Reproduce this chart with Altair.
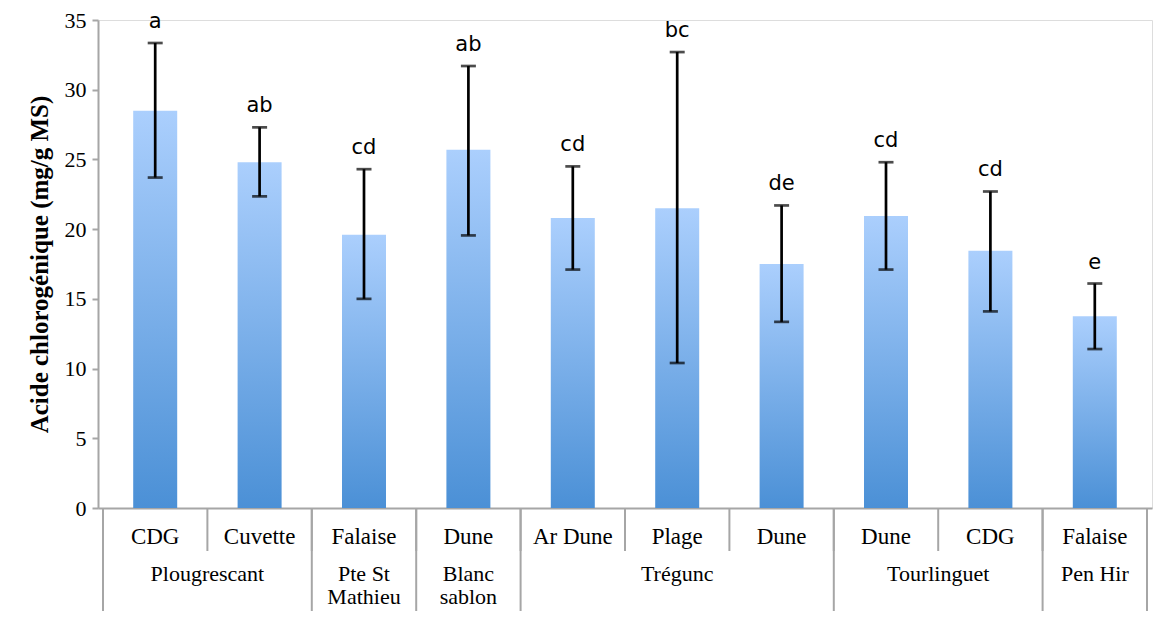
import altair as alt
import pandas as pd

# ---- data ----
sites = ["CDG", "Cuvette", "Falaise", "Dune", "Ar Dune", "Plage", "Dune", "Dune", "CDG", "Falaise"]
means = [28.5, 24.8, 19.6, 25.7, 20.8, 21.5, 17.5, 20.95, 18.45, 13.75]
err_high = [33.35, 27.3, 24.3, 31.7, 24.5, 32.7, 21.7, 24.8, 22.7, 16.1]
err_low = [23.7, 22.35, 15.0, 19.55, 17.1, 10.4, 13.35, 17.1, 14.1, 11.4]
letters = ["a", "ab", "cd", "ab", "cd", "bc", "de", "cd", "cd", "e"]
locations = ["Plougrescant", "Pte St\nMathieu", "Blanc\nsablon", "Trégunc", "Tourlinguet", "Pen Hir"]
location_spans = [2, 1, 1, 3, 2, 1]
y_ticks = [0, 5, 10, 15, 20, 25, 30, 35]

W = 1054
H = 488
GRAY = "#a6a6a6"
SERIF = "Liberation Serif"

df = pd.DataFrame({
    "pos": [i + 0.5 for i in range(len(sites))],
    "site": sites,
    "mean": means,
    "hi": err_high,
    "lo": err_low,
    "letter": letters,
})

starts = []
acc = 0
for s in location_spans:
    starts.append(acc)
    acc += s
loc_df = pd.DataFrame({
    "center": [st + sp / 2 for st, sp in zip(starts, location_spans)],
    "label": locations,
})
group_bounds = pd.DataFrame({"b": starts + [acc]})
cell_bounds = pd.DataFrame({"b": list(range(len(sites) + 1))})

x_scale = alt.Scale(domain=[0, len(sites)], nice=False, zero=False)
y_scale = alt.Scale(domain=[0, 35], nice=False)

base = alt.Chart(df)

bars = base.mark_bar(
    size=44,
    color=alt.Gradient(
        gradient="linear",
        stops=[alt.GradientStop(color="#abcffd", offset=0),
               alt.GradientStop(color="#4b90d6", offset=1)],
        x1=0, x2=0, y1=0, y2=1,
    ),
).encode(
    x=alt.X("pos:Q", scale=x_scale,
            axis=alt.Axis(labels=False, ticks=False, title=None, grid=False,
                          domainColor=GRAY, domainWidth=2)),
    y=alt.Y("mean:Q", scale=y_scale,
            axis=alt.Axis(values=y_ticks, grid=False, title="Acide chlorogénique (mg/g MS)",
                          titleFont=SERIF, titleFontSize=25, titleFontWeight="bold",
                          titleColor="black", titlePadding=12,
                          labelFont=SERIF, labelFontSize=22, labelColor="black",
                          labelPadding=6, tickSize=6, tickColor=GRAY, tickWidth=2,
                          domainColor=GRAY, domainWidth=2)),
)

err = base.mark_rule(color="black", strokeWidth=2.7).encode(
    x="pos:Q", y="lo:Q", y2="hi:Q"
)
cap_hi = base.mark_tick(orient="horizontal", size=15, thickness=2.7, color="black").encode(
    x="pos:Q", y="hi:Q"
)
cap_lo = base.mark_tick(orient="horizontal", size=15, thickness=2.7, color="black").encode(
    x="pos:Q", y="lo:Q"
)
letter_text = base.mark_text(font="DejaVu Sans", fontSize=21, baseline="alphabetic",
                             dy=-15, color="black").encode(
    x="pos:Q", y="hi:Q", text="letter:N"
)

cell_rules = alt.Chart(cell_bounds).mark_rule(color=GRAY, strokeWidth=2).encode(
    x="b:Q", y=alt.value(H), y2=alt.value(H + 43)
)
group_rules = alt.Chart(group_bounds).mark_rule(color=GRAY, strokeWidth=2).encode(
    x="b:Q", y=alt.value(H), y2=alt.value(H + 103)
)
site_text = base.mark_text(font=SERIF, fontSize=23, baseline="middle", color="black").encode(
    x="pos:Q", y=alt.value(H + 29), text="site:N"
)
loc_text = alt.Chart(loc_df).mark_text(font=SERIF, fontSize=22, baseline="top",
                                       lineBreak="\n", lineHeight=23, color="black").encode(
    x="center:Q", y=alt.value(H + 56), text="label:N"
)

chart = alt.layer(
    bars, err, cap_hi, cap_lo, letter_text, cell_rules, group_rules, site_text, loc_text
).properties(
    width=W, height=H,
    padding={"left": 90, "top": 12, "right": 2, "bottom": 103},
    autosize=alt.AutoSizeParams(type="none"),
).configure_view(stroke=None).configure(background="white")

chart.save("out.html", embed_options={"renderer": "svg", "actions": False})
